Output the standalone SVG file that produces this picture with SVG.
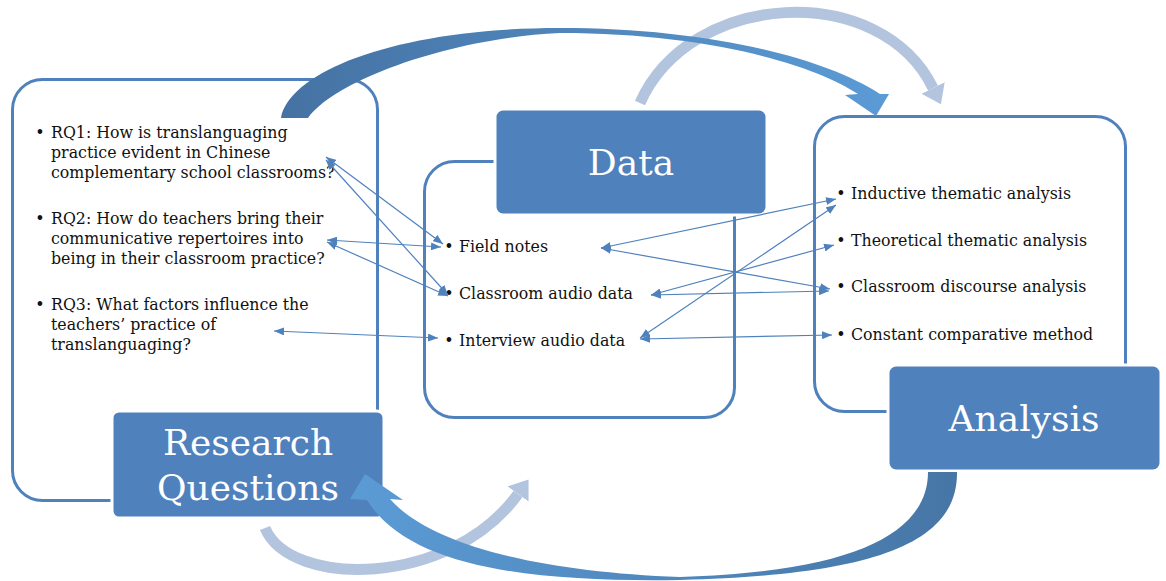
<svg xmlns="http://www.w3.org/2000/svg" width="1166" height="581" viewBox="0 0 1166 581">
<style>
.frame{fill:none;stroke:#4f81bd;stroke-width:3}
.box{fill:#4f81bd;stroke:#fff;stroke-width:3}
.hd{font-family:"DejaVu Serif","Liberation Serif",serif;font-size:36px;fill:#fff;text-anchor:middle}
.tx{font-family:"DejaVu Serif","Liberation Serif",serif;font-size:15.8px;fill:#111}
.bl{font-family:"DejaVu Serif","Liberation Serif",serif;font-size:15.8px;fill:#111;text-anchor:middle}
.thin{fill:none;stroke:#4f81bd;stroke-width:1.2;marker-start:url(#ah);marker-end:url(#ah)}
.light{fill:none;stroke:#b3c4df;stroke-width:11;marker-end:url(#lh)}
</style>
<defs>
<marker id="ah" viewBox="0 0 10 8" refX="10" refY="4" markerWidth="10" markerHeight="8" orient="auto-start-reverse" markerUnits="userSpaceOnUse"><path d="M0,0 L10,4 L0,8 Z" fill="#4f81bd"/></marker>
<marker id="lh" viewBox="0 -13 18 26" refX="0" refY="0" markerWidth="18" markerHeight="26" orient="auto" markerUnits="userSpaceOnUse"><path d="M0,-13 L18,0 L0,13 Z" fill="#b3c4df"/></marker>
<linearGradient id="gTop" x1="0" y1="0" x2="1" y2="0"><stop offset="0" stop-color="#4572a3"/><stop offset="1" stop-color="#5b9bd5"/></linearGradient>
<linearGradient id="gBot" x1="0" y1="0" x2="1" y2="0"><stop offset="0" stop-color="#5b9bd5"/><stop offset="1" stop-color="#4676a6"/></linearGradient>
</defs>

<g id="connectors-back">
<path class="light" d="M640,103 C690,-10 880,-20 933,88"/>
<path class="light" d="M265,528 C290,588 450,588 518,494"/>
</g>

<g id="node-rq">
<rect class="frame" x="12.5" y="79.5" width="365" height="421" rx="30"/>
<rect class="box" x="112" y="411" width="272" height="107" rx="7"/>
<text class="hd" x="248" y="455">Research</text>
<text class="hd" x="248" y="500">Questions</text>
<text class="bl" x="40" y="138">•</text>
<text class="tx" x="51" y="138">RQ1: How is translanguaging</text>
<text class="tx" x="51" y="158">practice evident in Chinese</text>
<text class="tx" x="51" y="178">complementary school classrooms?</text>
<text class="bl" x="40" y="224">•</text>
<text class="tx" x="51" y="224">RQ2: How do teachers bring their</text>
<text class="tx" x="51" y="244">communicative repertoires into</text>
<text class="tx" x="51" y="264">being in their classroom practice?</text>
<text class="bl" x="40" y="310">•</text>
<text class="tx" x="51" y="310">RQ3: What factors influence the</text>
<text class="tx" x="51" y="330">teachers’ practice of</text>
<text class="tx" x="51" y="350">translanguaging?</text>
</g>

<g id="node-data">
<rect class="frame" x="424.5" y="161.5" width="310" height="256" rx="30"/>
<rect class="box" x="495" y="109" width="272" height="106" rx="8"/>
<text class="hd" x="631" y="175">Data</text>
<text class="bl" x="449" y="252">•</text>
<text class="tx" x="459" y="252">Field notes</text>
<text class="bl" x="449" y="299">•</text>
<text class="tx" x="459" y="299">Classroom audio data</text>
<text class="bl" x="449" y="346">•</text>
<text class="tx" x="459" y="346">Interview audio data</text>
</g>

<g id="node-analysis">
<rect class="frame" x="814.5" y="116.5" width="311" height="295" rx="30"/>
<rect class="box" x="888" y="365" width="273" height="106" rx="8"/>
<text class="hd" x="1024" y="431">Analysis</text>
<text class="bl" x="841" y="199">•</text>
<text class="tx" x="851" y="199">Inductive thematic analysis</text>
<text class="bl" x="841" y="246">•</text>
<text class="tx" x="851" y="246">Theoretical thematic analysis</text>
<text class="bl" x="841" y="292">•</text>
<text class="tx" x="851" y="292">Classroom discourse analysis</text>
<text class="bl" x="841" y="340">•</text>
<text class="tx" x="851" y="340">Constant comparative method</text>
</g>

<g id="connectors">
<path fill="url(#gTop)" d="M281,118 C290,70 400,28 560,28 C700,28 820,55 880,94 L889,94 L876,116 L845,95 L858,94 C810,62 700,33 560,33 C450,38 335,80 308,118 Z"/>
<path fill="url(#gBot)" d="M957,472 C958,545 870,575 680,580 C540,582 410,570 367,500 L350,499 L365,474 L403,500 L390,499 C430,545 540,572 680,577 C850,572 928,535 928,472 Z"/>
<line class="thin" x1="326" y1="157" x2="443" y2="244"/>
<line class="thin" x1="326" y1="160" x2="448" y2="295"/>
<line class="thin" x1="327" y1="240" x2="441" y2="247"/>
<line class="thin" x1="327" y1="242" x2="448" y2="296"/>
<line class="thin" x1="274" y1="331" x2="438" y2="338"/>
<line class="thin" x1="601" y1="248" x2="836" y2="199"/>
<line class="thin" x1="601" y1="248" x2="830" y2="289"/>
<line class="thin" x1="651" y1="295" x2="834" y2="245"/>
<line class="thin" x1="651" y1="295" x2="829" y2="291"/>
<line class="thin" x1="640" y1="338" x2="836" y2="205"/>
<line class="thin" x1="640" y1="339" x2="832" y2="335"/>
</g>
</svg>
